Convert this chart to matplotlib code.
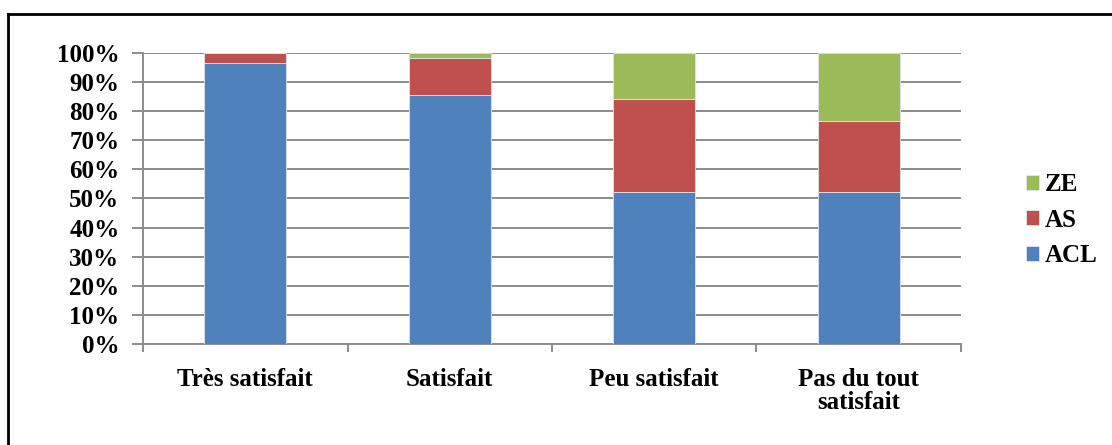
import matplotlib
matplotlib.use("Agg")
import matplotlib.pyplot as plt
import numpy as np
from matplotlib.ticker import FixedLocator, PercentFormatter
from matplotlib.lines import Line2D

categories = ["Très satisfait", "Satisfait", "Peu satisfait", "Pas du tout\nsatisfait"]
acl = [96.5, 85.6, 52.3, 52.3]
as_ = [3.5, 12.6, 31.9, 24.3]
ze = [0.0, 1.8, 15.8, 23.4]
y_ticks = list(range(0, 101, 10))

plt.rcParams["font.family"] = ["Liberation Serif", "DejaVu Serif"]
plt.rcParams["font.weight"] = "bold"

FS = 18

fig = plt.figure(figsize=(11.12, 4.45), dpi=100)
ax = fig.add_axes([0.1286, 0.227, 0.7356, 0.654])

x = np.arange(len(categories))
w = 0.4
edge = dict(edgecolor="#dfe6ee", linewidth=0.6)
b1 = ax.bar(x, acl, w, color="#4F81BD", label="ACL", zorder=3, **edge)
b2 = ax.bar(x, as_, w, bottom=acl, color="#C0504D", label="AS", zorder=3, **edge)
bottom2 = np.array(acl) + np.array(as_)
b3 = ax.bar(x, ze, w, bottom=bottom2, color="#9BBB59", label="ZE", zorder=3, **edge)

ax.set_xlim(-0.5, len(categories) - 0.5)
ax.set_ylim(0, 100)
ax.yaxis.set_major_locator(FixedLocator(y_ticks))
ax.yaxis.set_major_formatter(PercentFormatter(decimals=0))
ax.grid(axis="y", color="#8c8c8c", linewidth=1.4, zorder=0)

for s in ["top", "right"]:
    ax.spines[s].set_visible(False)
for s in ["left", "bottom"]:
    ax.spines[s].set_color("#8c8c8c")
    ax.spines[s].set_linewidth(1.4)

ax.tick_params(axis="y", length=8, width=1.4, color="#8c8c8c", pad=9,
               labelsize=FS)
ax.set_xticks(x)
ax.set_xticklabels(categories, fontsize=FS, linespacing=1.0)
ax.tick_params(axis="x", which="major", length=0, pad=17)
ax.xaxis.set_minor_locator(FixedLocator(np.arange(-0.5, len(categories), 1.0)))
ax.tick_params(axis="x", which="minor", length=6, width=1.4, color="#8c8c8c")
for lbl in ax.get_yticklabels() + ax.get_xticklabels():
    lbl.set_fontweight("bold")

handles = [b3, b2, b1]
leg = fig.legend(handles, ["ZE", "AS", "ACL"], loc="center left",
                 bbox_to_anchor=(0.902, 0.505), frameon=False,
                 prop={"size": FS, "weight": "bold"},
                 handlelength=0.55, handleheight=0.55, handletextpad=0.2,
                 labelspacing=0.5)

# frame lines around the chart area
fig.add_artist(Line2D([8 / 1112, 8 / 1112], [0, 1 - 14 / 445], color="black",
                      linewidth=2, transform=fig.transFigure))
fig.add_artist(Line2D([8 / 1112, 1], [1 - 14 / 445, 1 - 14 / 445], color="black",
                      linewidth=2, transform=fig.transFigure))

fig.savefig("out.png", dpi=100)
